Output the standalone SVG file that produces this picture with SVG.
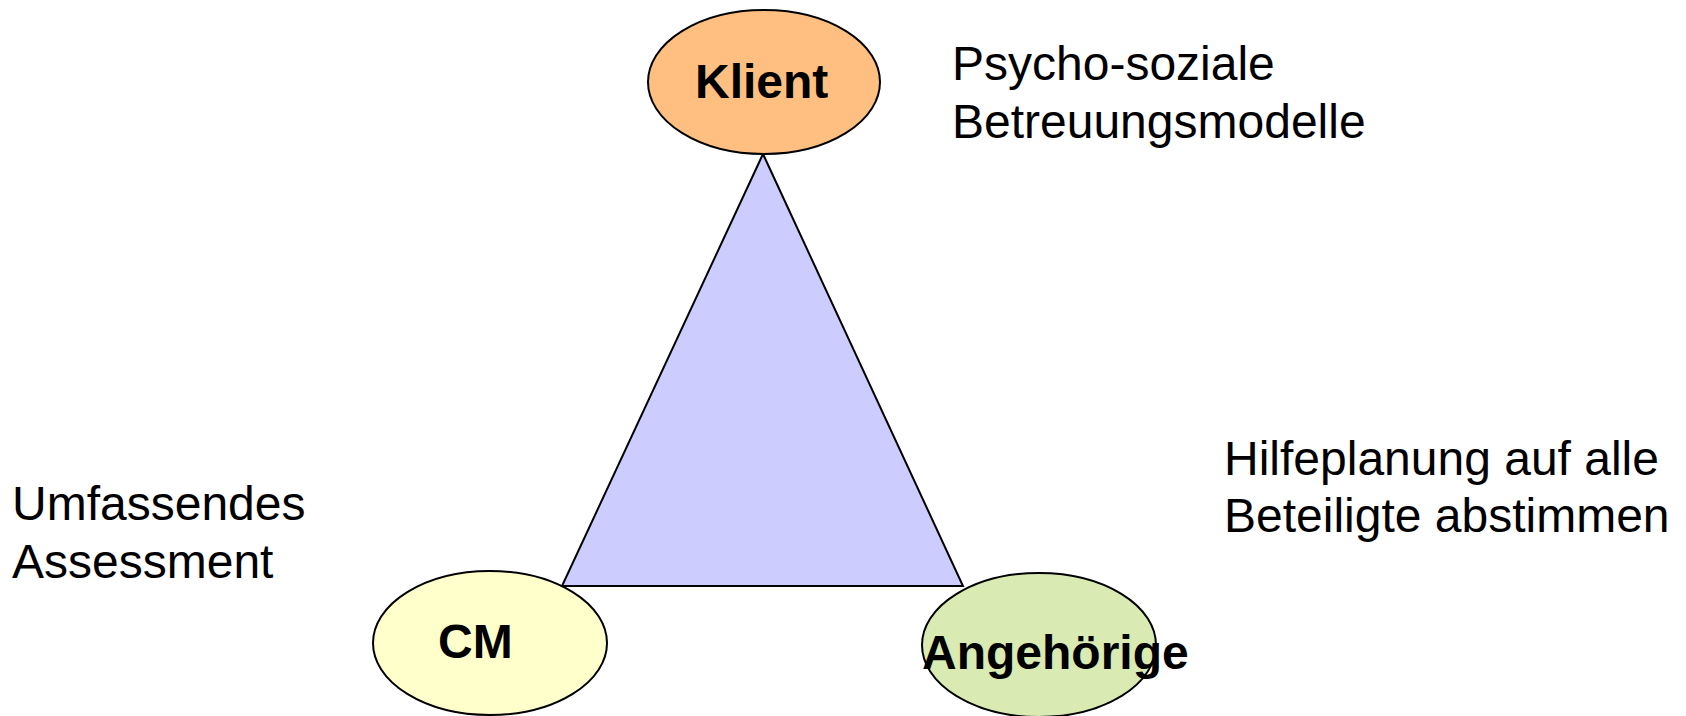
<svg xmlns="http://www.w3.org/2000/svg" width="1686" height="716" viewBox="0 0 1686 716">
<style>
.node{stroke:#000;stroke-width:2}
.lbl{font-family:"Liberation Sans",Arial,sans-serif;font-weight:bold;font-size:48px;fill:#000}
.note{font-family:"Liberation Sans",Arial,sans-serif;font-size:48px;fill:#000}
</style>
<rect width="1686" height="716" fill="#fff"/>
<g id="connectors">
<polygon points="763,154 562,586 963,586" fill="#ccccff" stroke="#000" stroke-width="2"/>
</g>
<g id="klient">
<ellipse class="node" cx="764" cy="82" rx="116" ry="72" fill="#ffbf80"/>
<text class="lbl" x="695" y="98">Klient</text>
</g>
<g id="cm">
<ellipse class="node" cx="490" cy="643" rx="117" ry="72" fill="#ffffcc"/>
<text class="lbl" x="438" y="658">CM</text>
</g>
<g id="angehoerige">
<ellipse class="node" cx="1039" cy="645" rx="117" ry="72" fill="#d9ebb3"/>
<text class="lbl" x="922" y="669">Angehörige</text>
</g>
<g id="notes">
<text class="note" x="952" y="80">Psycho-soziale</text>
<text class="note" x="952" y="138">Betreuungsmodelle</text>
<text class="note" x="12" y="520">Umfassendes</text>
<text class="note" x="12" y="578">Assessment</text>
<text class="note" x="1224" y="475">Hilfeplanung auf alle</text>
<text class="note" x="1224" y="532">Beteiligte abstimmen</text>
</g>
</svg>
